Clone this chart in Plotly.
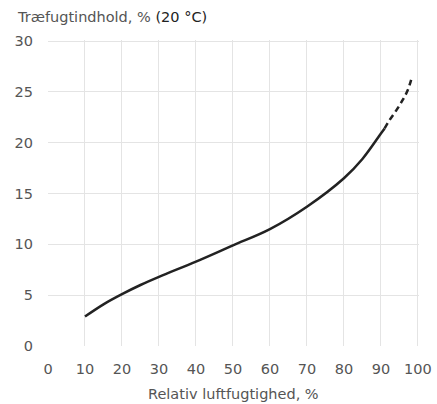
import plotly.graph_objects as go

# Solid part of the curve (measured)
rh_solid = [10, 15, 20, 25, 30, 40, 50, 60, 70, 80, 85, 90, 91]
mc_solid = [2.9, 4.1, 5.1, 6.0, 6.8, 8.3, 9.9, 11.5, 13.7, 16.5, 18.4, 20.9, 21.4]

# Dashed extrapolation
rh_dash = [91, 92.3, 94.2, 95.9, 97.3, 98.5]
mc_dash = [21.4, 22.2, 23.2, 24.2, 25.2, 26.6]

x_ticks = [0, 10, 20, 30, 40, 50, 60, 70, 80, 90, 100]
y_ticks = [0, 5, 10, 15, 20, 25, 30]

x_title = "Relativ luftfugtighed, %"
y_title_a = "Træfugtindhold, %"
y_title_b = "(20 °C)"

fig = go.Figure()
fig.add_trace(go.Scatter(x=rh_solid, y=mc_solid, mode="lines",
                         line=dict(color="#222222", width=2.5, shape="spline"),
                         showlegend=False, hoverinfo="skip"))
fig.add_trace(go.Scatter(x=rh_dash, y=mc_dash, mode="lines",
                         line=dict(color="#222222", width=2.5, shape="spline", dash="6px,4px"),
                         showlegend=False, hoverinfo="skip"))

fnt = dict(family="DejaVu Sans", size=14.5, color="#555555")

fig.update_layout(
    width=437, height=404,
    margin=dict(l=48, r=18, t=40, b=58),
    paper_bgcolor="white", plot_bgcolor="white",
    font=fnt,
    xaxis=dict(range=[0, 100.3], tickvals=x_ticks, showgrid=True, gridcolor="#e4e4e4",
               gridwidth=1, zeroline=False, showline=False, ticks="", automargin=False,
               ticklabelstandoff=12, tickfont=fnt),
    yaxis=dict(range=[0, 30.1], tickvals=y_ticks, showgrid=True, gridcolor="#e4e4e4",
               gridwidth=1, zeroline=False, showline=False, ticks="", automargin=False,
               ticklabelstandoff=14, tickfont=fnt),
    annotations=[
        dict(text=y_title_a + " <span style='color:#222222'>" + y_title_b + "</span>",
             xref="paper", yref="paper", x=-0.088, y=1.0, yshift=23,
             xanchor="left", yanchor="middle", showarrow=False, font=fnt),
        dict(text=x_title, xref="paper", yref="paper", x=0.5, y=0, yshift=-48,
             xanchor="center", yanchor="middle", showarrow=False, font=fnt),
    ],
)

fig.write_html("out.html")
